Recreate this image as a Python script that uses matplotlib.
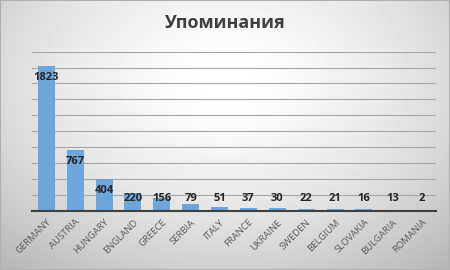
import numpy as np
import matplotlib.pyplot as plt

countries = ['GERMANY', 'AUSTRIA', 'HUNGARY', 'ENGLAND', 'GREECE', 'SERBIA', 'ITALY',
             'FRANCE', 'UKRAINE', 'SWEDEN', 'BELGIUM', 'SLOVAKIA', 'BULGARIA', 'ROMANIA']
mentions = [1823, 767, 404, 220, 156, 79, 51, 37, 30, 22, 21, 16, 13, 2]
title = 'Упоминания'

plt.rcParams['font.family'] = ['Open Sans', 'DejaVu Sans']

fig = plt.figure(figsize=(4.5, 2.7), dpi=100)

# фон с радиальным градиентом
bg = fig.add_axes([0, 0, 1, 1], zorder=-10)
yy, xx = np.mgrid[0:1:270j, 0:1:450j]
r = np.sqrt(((xx - 0.5) / 0.75) ** 2 + ((yy - 0.3) / 0.9) ** 2)
shade = 1.0 - 0.28 * np.clip(r, 0, 1) ** 1.6
bg.imshow(shade, cmap='gray', vmin=0, vmax=1, aspect='auto', extent=[0, 1, 1, 0])
bg.plot([0, 1, 1, 0, 0], [0, 0, 1, 1, 0], color='#b0b0b0', lw=1.5)
bg.set_xlim(0, 1)
bg.set_ylim(1, 0)
bg.axis('off')

ax = fig.add_axes([0.071, 0.2196, 0.898, 0.589])
ax.patch.set_alpha(0)
x = np.arange(len(countries))
ax.bar(x, mentions, width=0.59, color='#6fa6da', zorder=3)

ax.set_ylim(0, 2000)
ax.set_xlim(-0.5, len(countries) - 0.5)
ax.set_yticks(np.arange(200, 2001, 200))
ax.yaxis.grid(True, color='#a8a8a8', lw=0.8, zorder=0)
ax.tick_params(axis='y', length=0, labelleft=False)
ax.tick_params(axis='x', length=0, pad=5)
for s in ['top', 'right', 'left']:
    ax.spines[s].set_visible(False)
ax.spines['bottom'].set_color('#404040')
ax.spines['bottom'].set_linewidth(1.5)
ax.spines['bottom'].set_zorder(4)

ax.set_xticks(x)
ax.set_xticklabels(countries, rotation=45, ha='right', rotation_mode='anchor',
                   fontsize=6.8, color='#595959')

# подписи значений
for xi, v in zip(x, mentions):
    ax.text(xi, max(v - 150, 150), str(v), ha='center', va='center',
            fontsize=8, fontweight='bold', color='#262626', zorder=5)

fig.text(0.5, 0.915, title, ha='center', va='center', fontsize=13,
         fontweight='bold', color='#404040')

fig.savefig('out.png', dpi=100)
